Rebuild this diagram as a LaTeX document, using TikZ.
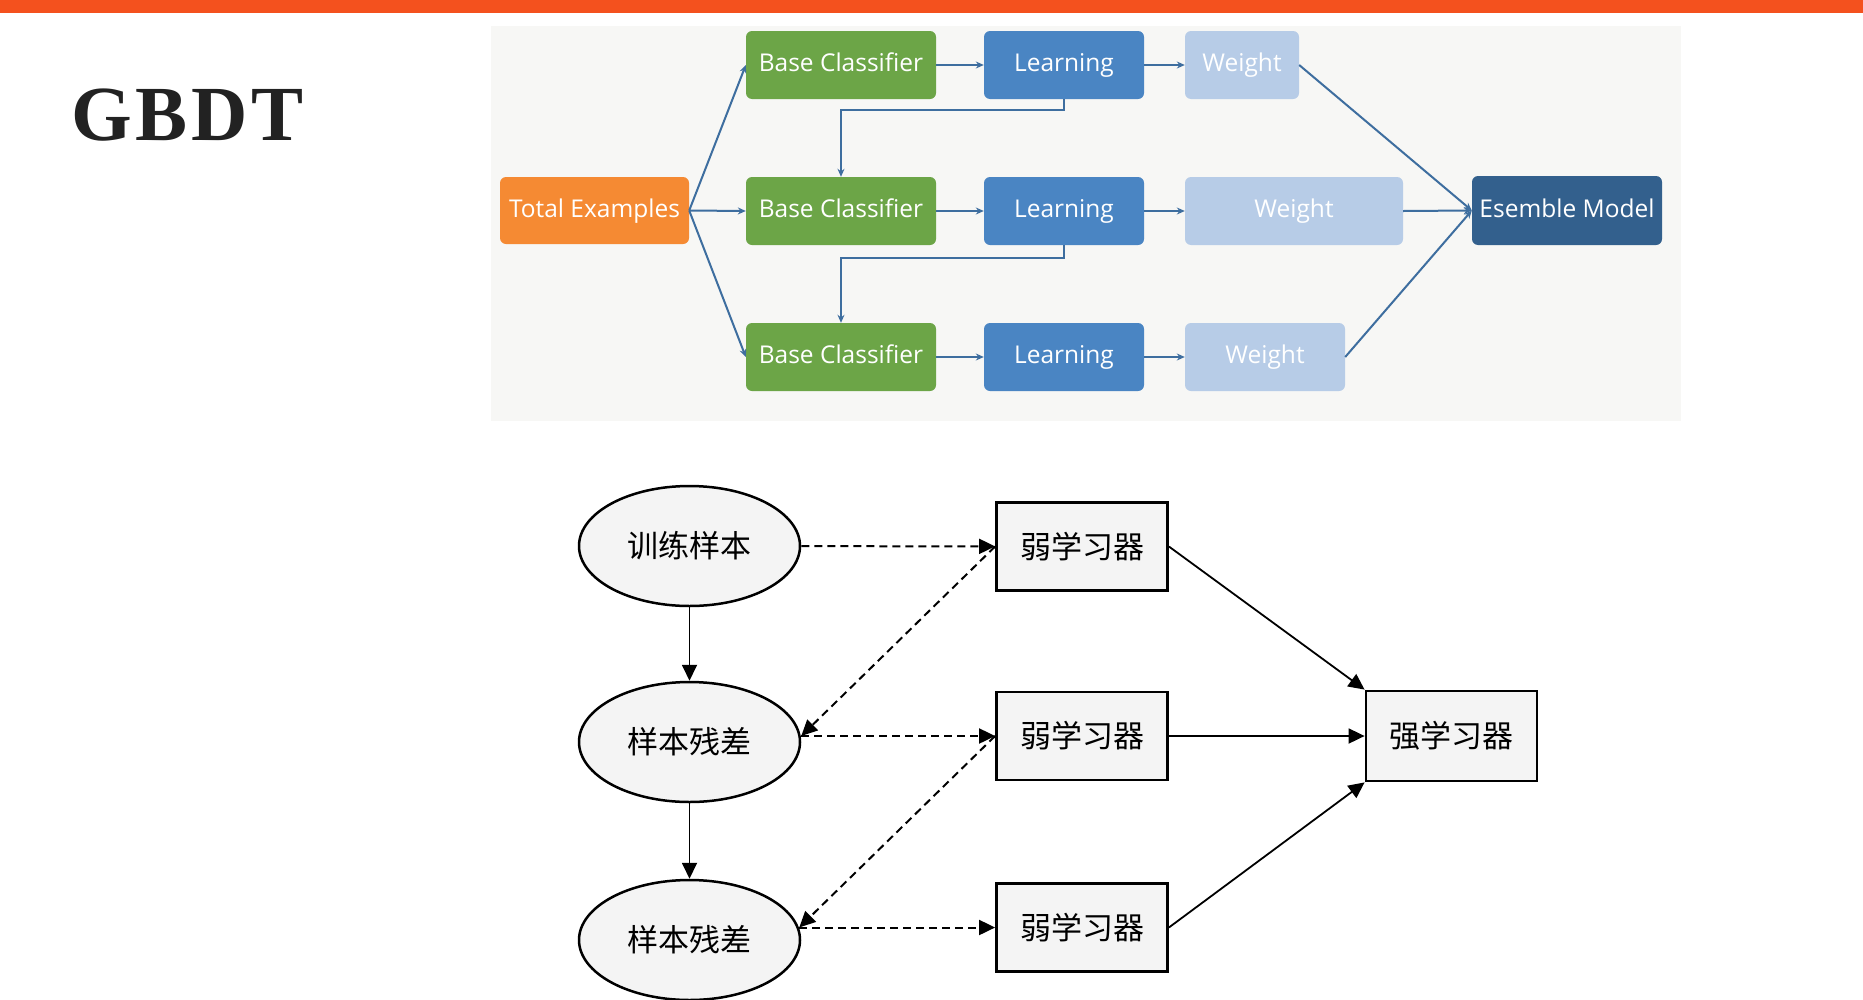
\documentclass[tikz,border=0pt]{standalone}
\usepackage{fontspec}
\setmainfont{Open Sans}
\newfontfamily\titlefont[LetterSpace=5]{Liberation Serif}
\newfontfamily\cjk{Noto Sans CJK SC}
\usetikzlibrary{arrows.meta,shapes.geometric}
\definecolor{topbar}{HTML}{F4511E}
\definecolor{panelbg}{HTML}{F7F7F5}
\definecolor{orangebox}{HTML}{F58A33}
\definecolor{greenbox}{HTML}{6CA547}
\definecolor{bluebox}{HTML}{4A85C3}
\definecolor{lightbox}{HTML}{B7CCE7}
\definecolor{darkbox}{HTML}{33608D}
\definecolor{conn}{HTML}{3E6E9F}
\definecolor{nodefill}{HTML}{F4F4F4}
\definecolor{titlegray}{HTML}{222222}
\tikzset{
  flowbox/.style={rectangle, rounded corners=6pt, minimum height=68pt, inner sep=0pt,
    text height=17.5pt, text depth=4.5pt,
    text=white, font=\fontsize{24.5}{28}\selectfont},
  bconn/.style={draw=conn, line width=2pt, -{Stealth[length=8pt,width=7pt]}},
  ell/.style={ellipse, draw=black, line width=2.5pt, fill=nodefill, minimum width=221pt,
    minimum height=120pt, inner sep=0pt, font=\cjk\fontsize{31}{34}\selectfont},
  wbox/.style={rectangle, draw=black, line width=2.8pt, fill=nodefill, minimum width=171pt,
    minimum height=88pt, inner sep=0pt, font=\cjk\fontsize{31}{34}\selectfont},
  solidarr/.style={draw=black, line width=1.8pt, -{Triangle[length=16pt,width=15pt]}},
  dasharr/.style={draw=black, line width=2pt, dash pattern=on 8pt off 5pt,
    -{Triangle[length=16pt,width=15pt]}}
}
\begin{document}
\begin{tikzpicture}[x=1pt,y=-1pt]
\useasboundingbox (0,0) rectangle (1863,999);
\fill[white] (0,0) rectangle (1863,999);
% top bar
\fill[topbar] (0,0) rectangle (1863,13);
% title
\node[anchor=base west, inner sep=0pt, text=titlegray,
  font=\titlefont\bfseries\fontsize{78}{80}\selectfont] (title) at (71,140) {GBDT};
% panel
\fill[panelbg] (491,26) rectangle (1681,421);
% top flow nodes
\node[flowbox, fill=orangebox, minimum width=189pt, minimum height=67pt] (te) at (594.5,210.5) {Total Examples};
\node[flowbox, fill=greenbox, minimum width=190pt] (bc1) at (841,65) {Base Classifier};
\node[flowbox, fill=greenbox, minimum width=190pt] (bc2) at (841,211) {Base Classifier};
\node[flowbox, fill=greenbox, minimum width=190pt] (bc3) at (841,357) {Base Classifier};
\node[flowbox, fill=bluebox, minimum width=160pt] (l1) at (1064,65) {Learning};
\node[flowbox, fill=bluebox, minimum width=160pt] (l2) at (1064,211) {Learning};
\node[flowbox, fill=bluebox, minimum width=160pt] (l3) at (1064,357) {Learning};
\node[flowbox, fill=lightbox, minimum width=114pt] (wt1) at (1242,65) {Weight};
\node[flowbox, fill=lightbox, minimum width=218pt] (wt2) at (1294,211) {Weight};
\node[flowbox, fill=lightbox, minimum width=160pt] (wt3) at (1265,357) {Weight};
\node[flowbox, fill=darkbox, minimum width=190pt, minimum height=69pt] (em) at (1567,210.5) {Esemble Model};
% top connectors
\draw[bconn] (te.east) -- (bc1.west);
\draw[bconn] (te.east) -- (bc2.west);
\draw[bconn] (te.east) -- (bc3.west);
\draw[bconn] (bc1) -- (l1);
\draw[bconn] (bc2) -- (l2);
\draw[bconn] (bc3) -- (l3);
\draw[bconn] (l1) -- (wt1);
\draw[bconn] (l2) -- (wt2);
\draw[bconn] (l3) -- (wt3);
\draw[bconn] (wt1.east) -- (em.west);
\draw[bconn] (wt2.east) -- (em.west);
\draw[bconn] (wt3.east) -- (em.west);
\draw[bconn] (l1.south) -- ++(0,11) -| (bc2.north);
\draw[bconn] (l2.south) -- ++(0,13) -| (bc3.north);
% bottom diagram
\node[ell] (e1) at (689.5,546) {训练样本};
\node[ell] (e2) at (689.5,742) {样本残差};
\node[ell] (e3) at (689.5,940) {样本残差};
\node[wbox] (w1) at (1082,546.5) {弱学习器};
\node[wbox] (w2) at (1082,736) {弱学习器};
\node[wbox] (w3) at (1082,927.5) {弱学习器};
\node[wbox, minimum height=90pt] (s) at (1451.5,736) {强学习器};
\coordinate (e2in) at (e2.east |- w2.west);
\coordinate (e3in) at ([xshift=-2pt]e3.east |- w3.west);
\draw[solidarr] (e1) -- (e2);
\draw[solidarr] (e2) -- (e3);
\draw[dasharr] (e1) -- (w1);
\draw[dasharr] (w1.west) -- (e2in);
\draw[dasharr] (e2in) -- (w2.west);
\draw[dasharr] (w2.west) -- (e3in);
\draw[dasharr] (e3in) -- (w3.west);
\draw[solidarr] (w1.east) -- (s.north west);
\draw[solidarr] (w2) -- (s);
\draw[solidarr] (w3.east) -- (s.south west);
\end{tikzpicture}
\end{document}
